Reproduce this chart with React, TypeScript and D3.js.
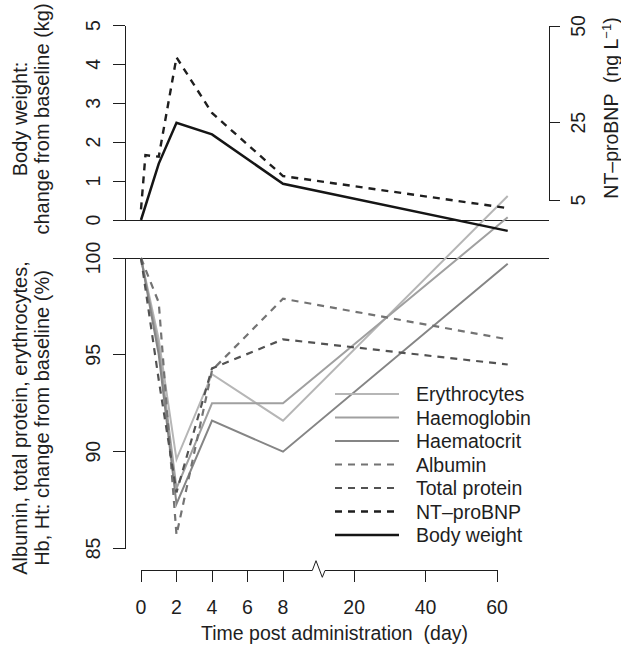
import React from "react";
import * as d3 from "d3";

const FONT = "'Liberation Sans', Arial, Helvetica, sans-serif";

// x ticks
const xTicks = [0, 2, 4, 6, 8, 20, 40, 60];

// top panel: body weight (kg) and NT-proBNP (ng/L)
const bwDays = [0, 1, 2, 4, 8, 63];
const bodyWeight = [0, 1.45, 2.5, 2.2, 0.93, -0.28];
const ntDays = [0, 0.25, 1, 2, 4, 8, 63];
const ntProBNP = [2.6, 16.6, 16.2, 41.9, 27.5, 11.2, 2.9];

// bottom panel: % of baseline
const labDays = [0, 1, 2, 4, 8, 63];
const erythrocytes = [100, 95.8, 89.6, 94.0, 91.6, 103.2];
const haemoglobin = [100, 95.4, 88.1, 92.5, 92.5, 102.1];
const haematocrit = [100, 95.0, 87.3, 91.6, 90.0, 99.7];
const albumin = [100, 97.7, 85.7, 94.2, 97.9, 95.8];
const totalProtein = [100, 93.7, 87.9, 94.3, 95.8, 94.5];

const leftTopTicks = [0, 1, 2, 3, 4, 5];
const rightTopTicks = [5, 25, 50];
const leftBottomTicks = [85, 90, 95, 100];

const legendLabels = ["Erythrocytes", "Haemoglobin", "Haematocrit", "Albumin", "Total protein", "NT\u2013proBNP", "Body weight"];

export default function App() {
  const x = d3.scaleLinear().domain([0, 10, 60]).range([141, 318.5, 497]);
  const yTop = d3.scaleLinear().domain([0, 5]).range([220, 25.5]);
  const yRight = d3.scaleLinear().domain([5, 50]).range([200, 26]);
  const yBot = d3.scaleLinear().domain([85, 100]).range([548.5, 258]);

  const mk = (days: number[], vals: number[], ys: d3.ScaleLinear<number, number>) =>
    d3.line<number>().x((_, i) => x(days[i])).y((v) => ys(v))(vals) || "";

  const axisCol = "#1e1e1e";
  const dash = "7,6";
  const cr = "crispEdges";

  const labSeries = [
    { vals: erythrocytes, col: "#b6b6b6", dash: null, w: 2 },
    { vals: haemoglobin, col: "#a0a0a0", dash: null, w: 2 },
    { vals: haematocrit, col: "#858585", dash: null, w: 2 },
    { vals: albumin, col: "#737373", dash, w: 2.2 },
    { vals: totalProtein, col: "#525252", dash, w: 2.2 },
  ];
  const legendStyles = [
    { col: "#b6b6b6", dash: null, w: 2 },
    { col: "#a0a0a0", dash: null, w: 2 },
    { col: "#858585", dash: null, w: 2 },
    { col: "#737373", dash, w: 2.2 },
    { col: "#525252", dash, w: 2.2 },
    { col: "#1e1e1e", dash, w: 2.4 },
    { col: "#151515", dash: null, w: 2.5 },
  ];

  const bx = x(10);
  const zig = `M${x(0)},570.5 L${bx - 6.2},570.5 L${bx - 2.5},560.7 L${bx + 3.8},577.3 L${bx + 6.5},570.5 L${x(60)},570.5`;

  const fs = 19.5;

  return (
    <svg width={621} height={645} style={{ position: "absolute", left: 0, top: 0, background: "#fff" }} fontFamily={FONT}>
      <rect x={0} y={0} width={621} height={645} fill="#fff" />
      {/* reference lines */}
      <line x1={113} x2={549} y1={yTop(0)} y2={yTop(0)} stroke={axisCol} strokeWidth={1} shapeRendering={cr} />
      <line x1={113} x2={549} y1={yBot(100)} y2={yBot(100)} stroke={axisCol} strokeWidth={1} shapeRendering={cr} />

      {/* top left axis */}
      <line x1={125} x2={125} y1={yTop(0)} y2={yTop(5)} stroke={axisCol} strokeWidth={1} shapeRendering={cr} />
      {leftTopTicks.map((t) => (
        <g key={"lt" + t}>
          <line x1={113} x2={125} y1={yTop(t)} y2={yTop(t)} stroke={axisCol} strokeWidth={1} shapeRendering={cr} />
          <text transform={`translate(100,${yTop(t)}) rotate(-90)`} textAnchor="middle" fontSize={fs} fill="#1e1e1e">{t}</text>
        </g>
      ))}
      {/* top right axis */}
      <line x1={549} x2={549} y1={yRight(5)} y2={yRight(50)} stroke={axisCol} strokeWidth={1} shapeRendering={cr} />
      {rightTopTicks.map((t) => (
        <g key={"rt" + t}>
          <line x1={549} x2={560} y1={yRight(t)} y2={yRight(t)} stroke={axisCol} strokeWidth={1} shapeRendering={cr} />
          <text transform={`translate(585,${yRight(t)}) rotate(-90)`} textAnchor="middle" fontSize={fs} fill="#1e1e1e">{t}</text>
        </g>
      ))}
      {/* bottom left axis */}
      <line x1={125} x2={125} y1={yBot(100)} y2={yBot(85)} stroke={axisCol} strokeWidth={1} shapeRendering={cr} />
      {leftBottomTicks.map((t) => (
        <g key={"lb" + t}>
          <line x1={113} x2={125} y1={yBot(t)} y2={yBot(t)} stroke={axisCol} strokeWidth={1} shapeRendering={cr} />
          <text transform={`translate(100,${yBot(t)}) rotate(-90)`} textAnchor="middle" fontSize={fs} fill="#1e1e1e">{t}</text>
        </g>
      ))}

      {/* x axis with break */}
      <path d={zig} fill="none" stroke={axisCol} strokeWidth={1} />
      {xTicks.map((t) => (
        <g key={"xt" + t}>
          <line x1={x(t)} x2={x(t)} y1={570} y2={582} stroke={axisCol} strokeWidth={1} shapeRendering={cr} />
          <text x={x(t)} y={614} textAnchor="middle" fontSize={fs} fill="#1e1e1e">{t}</text>
        </g>
      ))}
      <text x={334.5} y={640} textAnchor="middle" fontSize={fs} fill="#1e1e1e" style={{ whiteSpace: "pre" }}>
        {"Time post administration  (day)"}
      </text>

      {/* y titles */}
      <g transform="translate(27,119) rotate(-90)">
        <text textAnchor="middle" fontSize={20} fill="#1e1e1e">Body weight:</text>
      </g>
      <g transform="translate(49,119) rotate(-90)">
        <text textAnchor="middle" fontSize={20} fill="#1e1e1e">change from baseline (kg)</text>
      </g>
      <g transform="translate(27,418) rotate(-90)">
        <text textAnchor="middle" fontSize={20} fill="#1e1e1e">Albumin, total protein, erythrocytes,</text>
      </g>
      <g transform="translate(49,418) rotate(-90)">
        <text textAnchor="middle" fontSize={20} fill="#1e1e1e">Hb, Ht: change from baseline (%)</text>
      </g>
      <g transform="translate(618,108) rotate(-90)">
        <text textAnchor="middle" fontSize={fs} fill="#1e1e1e" style={{ whiteSpace: "pre" }}>
          {"NT\u2013proBNP  (ng L"}
          <tspan fontSize={13} dy={-7}>{"\u22121"}</tspan>
          <tspan dy={7}>)</tspan>
        </text>
      </g>

      {/* bottom panel series */}
      {labSeries.map((s, i) => (
        <path key={"lab" + i} d={mk(labDays, s.vals, yBot)} fill="none" stroke={s.col} strokeWidth={s.w}
          strokeDasharray={s.dash || undefined} strokeLinejoin="miter" />
      ))}

      {/* top panel series */}
      <path d={mk(ntDays, ntProBNP, yRight)} fill="none" stroke="#1e1e1e" strokeWidth={2.4} strokeDasharray={dash} />
      <path d={mk(bwDays, bodyWeight, yTop)} fill="none" stroke="#151515" strokeWidth={2.5} />

      {/* legend */}
      {legendLabels.map((lab, i) => {
        const ly = 394 + i * 23.5;
        const st = legendStyles[i];
        return (
          <g key={"lg" + i}>
            <line x1={335} x2={399} y1={ly} y2={ly} stroke={st.col} strokeWidth={st.w} strokeDasharray={st.dash || undefined} />
            <text x={416} y={ly + 7} fontSize={fs} fill="#1e1e1e">{lab}</text>
          </g>
        );
      })}
    </svg>
  );
}
